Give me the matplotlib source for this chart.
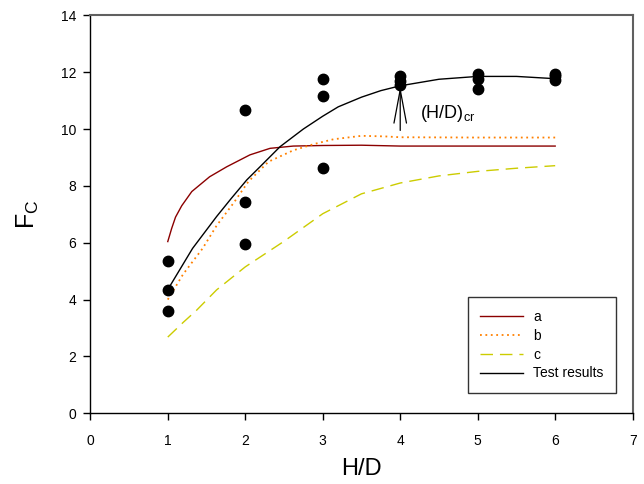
import matplotlib
matplotlib.use("Agg")
import matplotlib.pyplot as plt

plt.rcParams['font.family'] = ['Liberation Sans', 'DejaVu Sans']
plt.rcParams['mathtext.default'] = 'regular'

# measured F_C values at each H/D
hd_pts = [1, 1, 1, 2, 2, 2, 3, 3, 3, 4, 4, 4, 5, 5, 5, 6, 6, 6]
fc_pts = [5.36, 4.34, 3.60, 10.67, 7.42, 5.97, 11.77, 11.15, 8.64,
          11.88, 11.68, 11.56, 11.95, 11.76, 11.41, 11.95, 11.85, 11.74]

# curve a
a_x = [1.0, 1.05, 1.1, 1.18, 1.31, 1.54, 1.76, 2.06, 2.32, 2.62, 3.0, 3.5, 4.0, 5.0, 6.0]
a_y = [6.04, 6.5, 6.9, 7.3, 7.80, 8.32, 8.67, 9.09, 9.32, 9.40, 9.42, 9.43, 9.40, 9.40, 9.40]

# curve b
b_x = [1.0, 1.2, 1.45, 1.63, 1.85, 2.04, 2.3, 2.62, 2.9, 3.14, 3.5, 3.8, 4.0, 5.0, 6.0]
b_y = [4.0, 4.9, 5.8, 6.6, 7.4, 8.15, 8.85, 9.25, 9.48, 9.64, 9.76, 9.74, 9.71, 9.70, 9.70]

# curve c
c_x = [1.0, 1.2, 1.37, 1.63, 2.0, 2.5, 3.0, 3.5, 4.0, 4.5, 5.0, 5.5, 6.0]
c_y = [2.68, 3.2, 3.62, 4.34, 5.15, 6.05, 7.02, 7.72, 8.10, 8.35, 8.51, 8.62, 8.71]

# fit through the test results
t_x = [1.0, 1.32, 1.63, 1.82, 2.02, 2.19, 2.45, 2.75, 3.0, 3.2, 3.5, 3.75, 4.0, 4.5, 5.0, 5.5, 6.0]
t_y = [4.35, 5.80, 6.92, 7.56, 8.21, 8.67, 9.38, 10.0, 10.45, 10.78, 11.12, 11.35, 11.52, 11.75, 11.85, 11.85, 11.77]

hd_cr = 4
fc_cr = 11.5

fig = plt.figure(figsize=(6.44, 4.84), dpi=100)
ax = fig.add_axes([0.1402, 0.1461, 0.8422, 0.8223])

ax.plot(a_x, a_y, color='#8B0000', lw=1.0, label='a')
ax.plot(b_x, b_y, color='#FF8000', lw=1.3, linestyle=(0, (1, 2)), label='b')
ax.plot(c_x, c_y, color='#CCCC00', lw=1.0, linestyle=(0, (9, 5)), label='c')
ax.plot(t_x, t_y, color='black', lw=1.0, label='Test results')
ax.plot(hd_pts, fc_pts, 'o', color='black', ms=7.5, zorder=5)

# arrow marking the critical H/D
ax.annotate('', xy=(hd_cr, fc_cr), xytext=(hd_cr, 9.95),
            arrowprops=dict(arrowstyle='->,head_length=2.4,head_width=0.45',
                            lw=0.9, color='black', mutation_scale=10,
                            shrinkA=0, shrinkB=0))
ax.text(4.25, 10.38, '(H/D)$_{cr}$', fontsize=13, ha='left', va='baseline')

ax.set_xlim(0, 7)
ax.set_ylim(0, 14)
ax.set_xticks(range(0, 8))
ax.set_yticks(range(0, 15, 2))
ax.tick_params(axis='x', direction='out', length=5, width=1, pad=10, labelsize=10)
ax.tick_params(axis='y', direction='out', length=5, width=1, pad=5, labelsize=10)

for side in ['top', 'right']:
    ax.spines[side].set_color('#606060')
    ax.spines[side].set_linewidth(1.5)
for side in ['left', 'bottom']:
    ax.spines[side].set_color('black')
    ax.spines[side].set_linewidth(1.0)

ax.set_xlabel('H/D', fontsize=17, labelpad=7)
ax.set_ylabel('$F_C$', fontsize=18, labelpad=14)

leg = ax.legend(loc='lower right', bbox_to_anchor=(0.969, 0.051),
                borderaxespad=0, fontsize=10, frameon=True, fancybox=False,
                handlelength=3.1, handletextpad=0.7, labelspacing=0.35,
                borderpad=0.9)
leg.get_frame().set_edgecolor('black')
leg.get_frame().set_linewidth(1.0)

fig.savefig('out.png', dpi=100)
